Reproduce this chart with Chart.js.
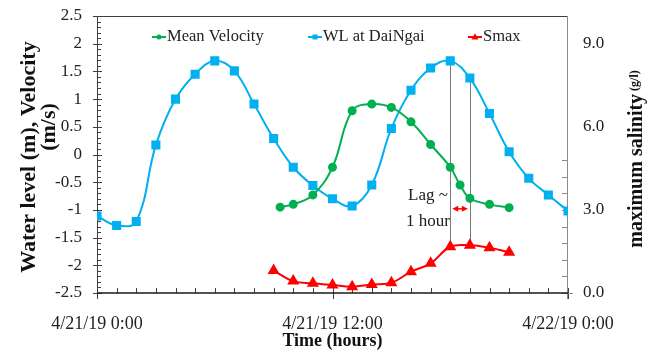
<!DOCTYPE html>
<html>
<head>
<meta charset="utf-8">
<script src="https://cdn.jsdelivr.net/npm/chart.js@4"></script>
<style>
  html, body { margin: 0; padding: 0; background: #fff; }
</style>
</head>
<body>
<canvas id="chart" width="653" height="356"></canvas>
<script>
// hours after 4/21/19 0:00
const wlHours = [0, 1, 2, 3, 4, 5, 6, 7, 8, 9, 10, 11, 12, 13, 14, 15, 16, 17, 18, 19, 20, 21, 22, 23, 24];
const wlValues = [-1.11, -1.28, -1.21, 0.17, 1.0, 1.45, 1.69, 1.51, 0.91, 0.29, -0.23, -0.56, -0.8, -0.93, -0.55, 0.47, 1.16, 1.56, 1.69, 1.38, 0.74, 0.05, -0.43, -0.73, -1.02];

const velHours = [9.33, 10, 11, 12, 13, 14, 15, 16, 17, 18, 18.5, 19, 20, 21];
const velValues = [-0.95, -0.9, -0.73, -0.23, 0.79, 0.91, 0.85, 0.59, 0.18, -0.23, -0.55, -0.79, -0.9, -0.96];

const smaxHours = [9, 10, 11, 12, 13, 14, 15, 16, 17, 18, 19, 20, 21];
const smaxValues = [0.81, 0.43, 0.35, 0.29, 0.23, 0.31, 0.37, 0.77, 1.07, 1.67, 1.72, 1.63, 1.47];

const xTickLabels = { 0: '4/21/19 0:00', 12: '4/21/19 12:00', 24: '4/22/19 0:00' };
const lagHours = [18, 19];

const BLUE = '#00B0F0';
const GREEN = '#00B050';
const RED = '#FF0000';
const serif = '"Liberation Serif", "Times New Roman", serif';

function toPoints(xs, ys) {
  return xs.map((x, i) => ({ x, y: ys[i] }));
}

function seg(ctx, x1, y1, x2, y2) {
  ctx.beginPath();
  ctx.moveTo(x1, y1);
  ctx.lineTo(x2, y2);
  ctx.stroke();
}

function marker(ctx, style, x, y, r, color) {
  ctx.fillStyle = color;
  ctx.beginPath();
  if (style === 'circle') {
    ctx.arc(x, y, r, 0, Math.PI * 2);
  } else if (style === 'rect') {
    ctx.rect(x - r, y - r, r * 2, r * 2);
  } else {
    ctx.moveTo(x, y - r * 1.1);
    ctx.lineTo(x + r, y + r * 0.7);
    ctx.lineTo(x - r, y + r * 0.7);
    ctx.closePath();
  }
  ctx.fill();
}

// pin the plot box: no extra room for end labels
function fixWidth(w) {
  return (scale) => {
    scale.width = w;
    scale.paddingTop = 0;
    scale.paddingBottom = 0;
  };
}

const decor = {
  id: 'decor',
  beforeDatasetsDraw(chart) {
    const { ctx, chartArea: a, scales } = chart;
    ctx.save();
    ctx.lineWidth = 1;

    // frame + left axis ticks
    ctx.strokeStyle = '#404040';
    seg(ctx, a.left, a.top + 0.5, a.right, a.top + 0.5);
    seg(ctx, a.left + 0.5, a.top, a.left + 0.5, a.bottom + 6);
    for (let i = -25; i <= 25; i++) {
      const y = Math.round(scales.y.getPixelForValue(i / 10)) + 0.5;
      if (i % 5 === 0) seg(ctx, a.left - 4, y, a.left + 5, y);
      else seg(ctx, a.left, y, a.left + 4, y);
    }

    // time ticks
    for (let h = 0; h <= 24; h++) {
      const x = Math.round(scales.x.getPixelForValue(h)) + 0.5;
      seg(ctx, x, a.bottom, x, a.bottom - 5);
      if (h % 12 === 0) seg(ctx, x, a.bottom, x, a.bottom + 6);
    }

    // right axis
    ctx.strokeStyle = '#8c8c8c';
    seg(ctx, a.right - 0.5, a.top, a.right - 0.5, a.bottom + 6);
    for (let i = 0; i <= 8; i++) {
      const y = Math.round(scales.y2.getPixelForValue(i * 0.6)) + 0.5;
      seg(ctx, a.right - 6, y, a.right, y);
    }
    seg(ctx, a.right, Math.round(a.bottom) + 0.5, a.right + 5, Math.round(a.bottom) + 0.5);

    // bottom axis
    ctx.strokeStyle = '#1a1a1a';
    ctx.lineWidth = 1.5;
    seg(ctx, a.left, a.bottom, a.right, a.bottom);

    // lag guide lines
    ctx.strokeStyle = '#7a7a7a';
    ctx.lineWidth = 1;
    lagHours.forEach((h) => {
      const x = Math.round(scales.x.getPixelForValue(h)) + 0.5;
      const yTop = scales.y.getPixelForValue(wlValues[wlHours.indexOf(h)]);
      const yBot = scales.y2.getPixelForValue(smaxValues[smaxHours.indexOf(h)]);
      seg(ctx, x, yTop, x, yBot);
    });
    ctx.restore();
  },
  afterDraw(chart) {
    const { ctx, scales } = chart;
    ctx.save();

    // lag arrow
    const x1 = scales.x.getPixelForValue(lagHours[0]) + 2;
    const x2 = scales.x.getPixelForValue(lagHours[1]) - 2;
    const ya = scales.y.getPixelForValue(-0.98);
    ctx.strokeStyle = RED;
    ctx.fillStyle = RED;
    ctx.lineWidth = 1.5;
    seg(ctx, x1 + 4, ya, x2 - 4, ya);
    ctx.beginPath();
    ctx.moveTo(x1, ya); ctx.lineTo(x1 + 6, ya - 3); ctx.lineTo(x1 + 6, ya + 3); ctx.closePath();
    ctx.moveTo(x2, ya); ctx.lineTo(x2 - 6, ya - 3); ctx.lineTo(x2 - 6, ya + 3); ctx.closePath();
    ctx.fill();

    ctx.fillStyle = '#222';
    ctx.font = '17px ' + serif;
    ctx.textAlign = 'right';
    ctx.textBaseline = 'middle';
    ctx.fillText('Lag ~', 448, 196);
    ctx.fillText('1 hour', 450, 222);

    // legend
    const items = [
      { label: 'Mean Velocity', color: GREEN, style: 'circle', x: 152, r: 2.5 },
      { label: 'WL at DaiNgai', color: BLUE, style: 'rect', x: 308, r: 2.5 },
      { label: 'Smax', color: RED, style: 'triangle', x: 468, r: 3.5 },
    ];
    ctx.font = '16.5px ' + serif;
    ctx.textAlign = 'left';
    items.forEach((it) => {
      const y = 37;
      ctx.strokeStyle = it.color;
      ctx.lineWidth = 2;
      seg(ctx, it.x, y, it.x + 14, y);
      marker(ctx, it.style, it.x + 7, y, it.r, it.color);
      ctx.fillStyle = '#222';
      ctx.fillText(it.label, it.x + 15, y);
    });

    // left axis title
    ctx.fillStyle = '#111';
    ctx.textAlign = 'center';
    ctx.font = 'bold 22px ' + serif;
    ctx.save();
    ctx.translate(29, 157);
    ctx.rotate(-Math.PI / 2);
    ctx.fillText('Water level (m), Velocity', 0, 0);
    ctx.restore();
    ctx.save();
    ctx.translate(49, 127);
    ctx.rotate(-Math.PI / 2);
    ctx.fillText('(m/s)', 0, 0);
    ctx.restore();

    // right axis title
    const main = 'maximum salinity';
    const unit = ' (g/l)';
    ctx.font = 'bold 20px ' + serif;
    const w1 = ctx.measureText(main).width;
    ctx.font = 'bold 12px ' + serif;
    const w2 = ctx.measureText(unit).width;
    ctx.save();
    ctx.translate(637, 159);
    ctx.rotate(-Math.PI / 2);
    ctx.textAlign = 'left';
    ctx.font = 'bold 20px ' + serif;
    ctx.fillText(main, -(w1 + w2) / 2, 0);
    ctx.font = 'bold 12px ' + serif;
    ctx.fillText(unit, -(w1 + w2) / 2 + w1, -2);
    ctx.restore();

    ctx.restore();
  },
};

new Chart(document.getElementById('chart'), {
  type: 'line',
  data: {
    datasets: [
      {
        label: 'Mean Velocity',
        data: toPoints(velHours, velValues),
        borderColor: GREEN,
        backgroundColor: GREEN,
        borderWidth: 2,
        pointStyle: 'circle',
        pointRadius: 3.5,
        tension: 0.4,
        yAxisID: 'y',
      },
      {
        label: 'WL at DaiNgai',
        data: toPoints(wlHours, wlValues),
        borderColor: BLUE,
        backgroundColor: BLUE,
        borderWidth: 2,
        pointStyle: 'rect',
        pointRadius: 5,
        tension: 0.4,
        yAxisID: 'y',
      },
      {
        label: 'Smax',
        data: toPoints(smaxHours, smaxValues),
        borderColor: RED,
        backgroundColor: RED,
        borderWidth: 2,
        pointStyle: 'triangle',
        pointRadius: 5,
        tension: 0.4,
        yAxisID: 'y2',
      },
    ],
  },
  options: {
    responsive: false,
    animation: false,
    layout: { padding: { top: 16, left: 0, right: 0, bottom: 0 } },
    plugins: {
      legend: { display: false },
      tooltip: { enabled: false },
    },
    scales: {
      x: {
        type: 'linear',
        min: 0,
        max: 24,
        afterBuildTicks: (scale) => {
          scale.ticks = Object.keys(xTickLabels).map((v) => ({ value: Number(v) }));
        },
        afterFit: (scale) => {
          scale.height = 63;
          scale.paddingLeft = 0;
          scale.paddingRight = 0;
        },
        grid: { display: false, drawTicks: false },
        border: { display: false },
        ticks: {
          autoSkip: false,
          maxRotation: 0,
          padding: 20,
          color: '#222',
          font: { family: serif, size: 18 },
          callback: (v) => xTickLabels[v] || '',
        },
        title: {
          display: true,
          text: 'Time (hours)',
          color: '#111',
          font: { family: serif, size: 18, weight: 'bold' },
          padding: { top: 0, bottom: 4 },
        },
      },
      y: {
        position: 'left',
        min: -2.5,
        max: 2.5,
        afterFit: fixWidth(97),
        grid: { display: false, drawTicks: false },
        border: { display: false },
        ticks: {
          stepSize: 0.5,
          padding: 15,
          color: '#222',
          font: { family: serif, size: 17 },
          callback: (v) => String(Math.round(v * 10) / 10),
        },
      },
      y2: {
        position: 'right',
        min: 0,
        max: 10,
        afterFit: fixWidth(85),
        grid: { display: false, drawTicks: false },
        border: { display: false },
        ticks: {
          stepSize: 3,
          padding: 15,
          color: '#222',
          font: { family: serif, size: 17 },
          callback: (v) => (v % 3 === 0 ? v.toFixed(1) : ''),
        },
      },
    },
  },
  plugins: [decor],
});
</script>
</body>
</html>
